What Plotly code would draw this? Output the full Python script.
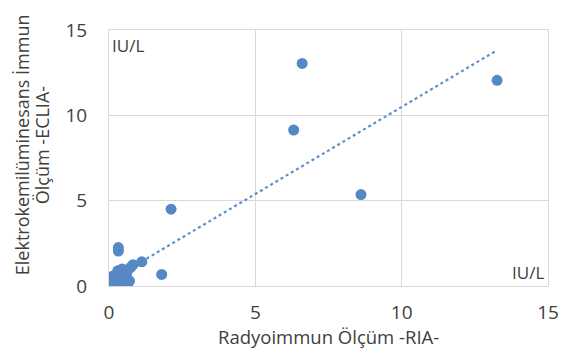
import plotly.graph_objects as go

# Data (IU/L)
ria_values = [0.05, 0.10, 0.20, 0.25, 0.30, 0.35, 0.40, 0.45, 0.50, 0.55, 0.60, 0.65, 0.70,
              0.30, 0.45, 0.55, 0.75, 0.82, 1.12, 0.32, 0.32, 1.80, 2.12, 6.31, 6.60, 8.61, 13.26,
              0.15, 0.35, 0.60, 0.65, 0.40, 0.20]
eclia_values = [0.10, 0.30, 0.20, 0.50, 0.10, 0.80, 0.30, 0.60, 0.20, 0.90, 0.40, 0.15, 0.30,
                0.90, 1.00, 0.60, 1.10, 1.25, 1.42, 2.05, 2.25, 0.68, 4.50, 9.14, 13.04, 5.36, 12.05,
                0.60, 0.45, 0.70, 0.95, 0.85, 0.05]

# Linear trendline coefficients
trend_slope = 1.02
trend_intercept = 0.29

x_ticks = [0, 5, 10, 15]
y_ticks = [0, 5, 10, 15]
x_title = "Radyoimmun Ölçüm -RIA-"
y_title_lines = ["Elektrokemilüminesans İmmun", "Ölçüm -ECLIA-"]
unit_label = "IU/L"

FONT = "Open Sans"
TXT = "#404040"
GRID = "#d9d9d9"
BLUE = "#5588c4"

trend_x = [min(ria_values), max(ria_values)]
trend_y = [trend_slope * v + trend_intercept for v in trend_x]

fig = go.Figure()
fig.add_trace(go.Scatter(
    x=trend_x, y=trend_y, mode="lines",
    line=dict(color="#5f8fc8", width=2.2, dash="dot"),
    hoverinfo="skip", showlegend=False,
))
fig.add_trace(go.Scatter(
    x=ria_values, y=eclia_values, mode="markers",
    marker=dict(color=BLUE, size=11, line=dict(width=0)),
    showlegend=False,
))

# page has an 8px body margin, so the figure is sized/offset to compensate
fig.update_layout(
    width=564, height=351,
    margin=dict(l=101, r=24, t=22, b=73),
    paper_bgcolor="white", plot_bgcolor="white",
    font=dict(family=FONT, color=TXT, size=16),
    showlegend=False,
)
fig.update_xaxes(
    range=[0, 15], tickvals=x_ticks, ticktext=[str(v) for v in x_ticks],
    showgrid=True, gridcolor=GRID, gridwidth=1,
    showline=True, linecolor=GRID, linewidth=1, mirror=True,
    zeroline=False, automargin=False,
    ticks="outside", ticklen=9, tickcolor="rgba(0,0,0,0)",
    tickfont=dict(size=19, family=FONT, color=TXT),
)
fig.update_yaxes(
    range=[0, 15], tickvals=y_ticks, ticktext=[str(v) for v in y_ticks],
    showgrid=True, gridcolor=GRID, gridwidth=1,
    showline=True, linecolor=GRID, linewidth=1, mirror=True,
    zeroline=False, automargin=False,
    ticks="outside", ticklen=17, tickcolor="rgba(0,0,0,0)",
    tickfont=dict(size=19, family=FONT, color=TXT),
)
# axis titles
fig.add_annotation(
    x=0.5, y=0, xref="paper", yref="paper", xanchor="center", yanchor="middle",
    text=x_title, showarrow=False, yshift=-50,
    font=dict(size=18.5, family=FONT, color=TXT),
)
for i, line in enumerate(y_title_lines):
    fig.add_annotation(
        x=0, y=0.55, xref="paper", yref="paper", xanchor="center", yanchor="middle",
        text=line, showarrow=False, textangle=-90, xshift=-87 + 20 * i,
        font=dict(size=18, family=FONT, color=TXT),
    )
fig.add_annotation(
    x=0, y=1, xref="paper", yref="paper", xanchor="left", yanchor="top",
    text=unit_label, showarrow=False, xshift=1, yshift=-2,
    font=dict(size=17, family=FONT, color=TXT),
)
fig.add_annotation(
    x=1, y=0, xref="paper", yref="paper", xanchor="right", yanchor="bottom",
    text=unit_label, showarrow=False, xshift=-2, yshift=0,
    font=dict(size=17, family=FONT, color=TXT),
)

fig.write_html("out.html")
